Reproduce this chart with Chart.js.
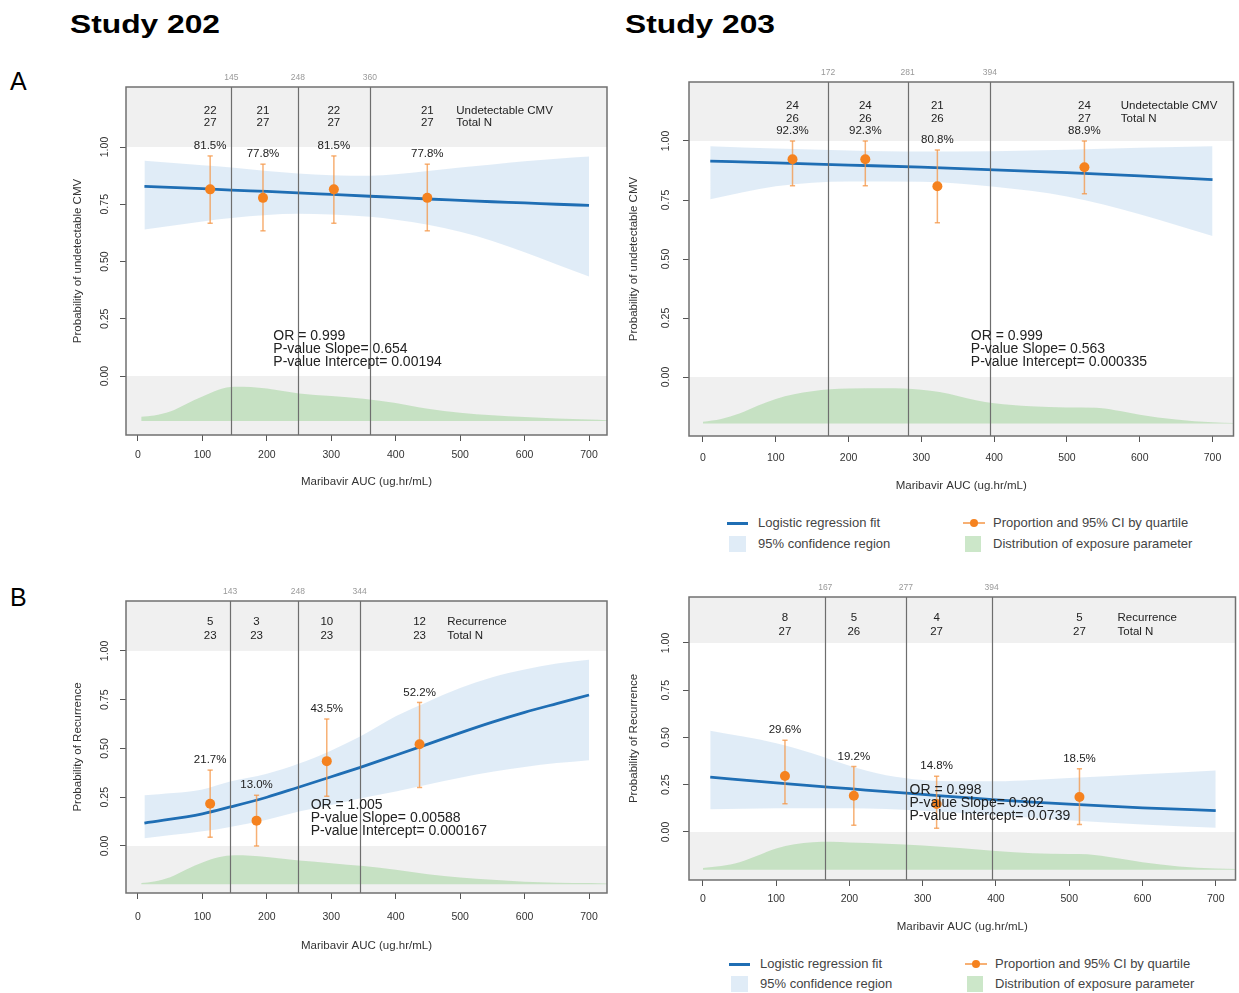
<!DOCTYPE html>
<html>
<head>
<meta charset="utf-8">
<title>Maribavir AUC exposure–response</title>
<script src="https://cdn.jsdelivr.net/npm/chart.js@4.4.1/dist/chart.umd.min.js"></script>
<style>
  html, body { margin: 0; padding: 0; background: #fff; }
  body { position: relative; width: 1239px; height: 993px; overflow: hidden;
         font-family: "Liberation Sans", Arial, sans-serif; color: #222; }
  canvas { position: absolute; }
  .study { position: absolute; top: 12px; font-size: 25px; line-height: 25px; font-weight: bold;
           color: #000; transform: scaleX(1.27); transform-origin: 0 0; white-space: nowrap; }
  .tag { position: absolute; font-size: 25px; line-height: 25px; color: #000; }
  .lg { position: absolute; font-size: 13px; line-height: 14px; color: #444; white-space: nowrap; }
  .sw { position: absolute; }
</style>
</head>
<body>
<div class="study" style="left:70px">Study 202</div>
<div class="study" style="left:625px">Study 203</div>
<div class="tag" style="left:10px;top:69px">A</div>
<div class="tag" style="left:10px;top:585px">B</div>

<canvas id="cmv202"></canvas>
<canvas id="cmv203"></canvas>
<canvas id="rec202"></canvas>
<canvas id="rec203"></canvas>

<script>
// ---------- shared axis ticks ----------
const xTickValues = [0, 100, 200, 300, 400, 500, 600, 700];
const yTickValues = [0, 0.25, 0.5, 0.75, 1];
const xAxisTitle = 'Maribavir AUC (ug.hr/mL)';

// ---------- Study 202: undetectable CMV ----------
const cmv202Cuts = [145, 248, 360];
const cmv202QuartileX = [112, 194, 304, 449];
const cmv202Prop = [0.815, 0.778, 0.815, 0.778];
const cmv202Low = [0.667, 0.634, 0.667, 0.634];
const cmv202High = [0.961, 0.925, 0.961, 0.925];
const cmv202Events = [22, 21, 22, 21];
const cmv202Total = [27, 27, 27, 27];
const cmv202FitX = [10, 100, 145, 200, 248, 300, 360, 400, 450, 500, 550, 600, 650, 700];
const cmv202Fit = [0.828, 0.818, 0.812, 0.806, 0.8, 0.793, 0.785, 0.78, 0.773, 0.767, 0.761, 0.756, 0.75, 0.745];
const cmv202BandHigh = [0.94, 0.92, 0.911, 0.895, 0.884, 0.877, 0.875, 0.881, 0.895, 0.91, 0.924, 0.938, 0.949, 0.958];
const cmv202BandLow = [0.64, 0.675, 0.69, 0.703, 0.708, 0.705, 0.695, 0.682, 0.66, 0.63, 0.59, 0.54, 0.487, 0.434];
const cmv202DensX = [5, 25, 50, 75, 100, 125, 150, 175, 200, 250, 300, 350, 400, 450, 500, 550, 600, 650, 700, 730];
const cmv202Dens = [-0.178, -0.172, -0.155, -0.122, -0.09, -0.06, -0.047, -0.048, -0.055, -0.076, -0.087, -0.099, -0.118, -0.143, -0.16, -0.171, -0.179, -0.186, -0.19, -0.193];
const cmv202Stats = ['OR = 0.999', 'P-value Slope= 0.654', 'P-value Intercept= 0.00194'];

// ---------- Study 203: undetectable CMV ----------
const cmv203Cuts = [172, 281, 394];
const cmv203QuartileX = [123, 223, 322, 524];
const cmv203Prop = [0.923, 0.923, 0.808, 0.889];
const cmv203Low = [0.81, 0.81, 0.654, 0.777];
const cmv203High = [1.0, 1.0, 0.962, 1.0];
const cmv203Events = [24, 24, 21, 24];
const cmv203Total = [26, 26, 26, 27];
const cmv203FitX = [10, 100, 200, 300, 400, 500, 600, 700];
const cmv203Fit = [0.915, 0.907, 0.898, 0.889, 0.878, 0.866, 0.852, 0.836];
const cmv203BandHigh = [0.978, 0.968, 0.96, 0.955, 0.957, 0.963, 0.971, 0.978];
const cmv203BandLow = [0.753, 0.808, 0.828, 0.827, 0.806, 0.765, 0.69, 0.597];
const cmv203DensX = [0, 25, 50, 75, 100, 125, 150, 175, 200, 250, 300, 325, 350, 375, 400, 450, 500, 540, 575, 600, 650, 700, 730];
const cmv203Dens = [-0.19, -0.178, -0.155, -0.122, -0.093, -0.073, -0.06, -0.052, -0.049, -0.048, -0.054, -0.064, -0.08, -0.098, -0.111, -0.124, -0.129, -0.13, -0.145, -0.16, -0.18, -0.192, -0.195];
const cmv203Stats = ['OR = 0.999', 'P-value Slope= 0.563', 'P-value Intercept= 0.000335'];

// ---------- Study 202: recurrence ----------
const rec202Cuts = [143, 248, 344];
const rec202QuartileX = [112, 184, 293, 437];
const rec202Prop = [0.217, 0.13, 0.435, 0.522];
const rec202Low = [0.045, 0.0, 0.255, 0.3];
const rec202High = [0.389, 0.26, 0.651, 0.736];
const rec202Events = [5, 3, 10, 12];
const rec202Total = [23, 23, 23, 23];
const rec202FitX = [10, 100, 143, 200, 248, 300, 344, 400, 450, 500, 550, 600, 650, 700];
const rec202Fit = [0.117, 0.165, 0.2, 0.25, 0.3, 0.355, 0.402, 0.465, 0.522, 0.58, 0.635, 0.685, 0.73, 0.774];
const rec202BandHigh = [0.26, 0.29, 0.33, 0.37, 0.42, 0.49, 0.56, 0.665, 0.74, 0.81, 0.865, 0.905, 0.935, 0.955];
const rec202BandLow = [0.04, 0.075, 0.098, 0.135, 0.175, 0.21, 0.243, 0.28, 0.315, 0.35, 0.38, 0.405, 0.425, 0.44];
const rec202DensX = [5, 25, 50, 75, 100, 125, 150, 175, 200, 250, 300, 350, 400, 450, 500, 550, 600, 650, 700, 730];
const rec202Dens = [-0.19, -0.182, -0.16, -0.12, -0.085, -0.058, -0.048, -0.05, -0.057, -0.075, -0.088, -0.103, -0.122, -0.145, -0.162, -0.173, -0.183, -0.188, -0.19, -0.192];
const rec202Stats = ['OR = 1.005', 'P-value Slope= 0.00588', 'P-value Intercept= 0.000167'];

// ---------- Study 203: recurrence ----------
const rec203Cuts = [167, 277, 394];
const rec203QuartileX = [112, 206, 319, 514];
const rec203Prop = [0.296, 0.192, 0.148, 0.185];
const rec203Low = [0.15, 0.036, 0.02, 0.04];
const rec203High = [0.485, 0.347, 0.295, 0.335];
const rec203Events = [8, 5, 4, 5];
const rec203Total = [27, 26, 27, 27];
const rec203FitX = [10, 100, 150, 200, 250, 300, 350, 400, 450, 500, 600, 700];
const rec203Fit = [0.29, 0.26, 0.244, 0.229, 0.213, 0.199, 0.184, 0.17, 0.158, 0.147, 0.128, 0.113];
const rec203BandHigh = [0.535, 0.47, 0.415, 0.35, 0.3, 0.275, 0.268, 0.268, 0.275, 0.285, 0.305, 0.325];
const rec203BandLow = [0.12, 0.125, 0.126, 0.125, 0.122, 0.112, 0.1, 0.087, 0.075, 0.062, 0.04, 0.022];
const rec203DensX = [0, 25, 50, 75, 100, 125, 150, 175, 200, 250, 300, 350, 400, 450, 500, 525, 550, 600, 650, 700, 730];
const rec203Dens = [-0.19, -0.18, -0.16, -0.125, -0.088, -0.065, -0.054, -0.052, -0.055, -0.062, -0.072, -0.085, -0.1, -0.112, -0.116, -0.118, -0.13, -0.16, -0.182, -0.193, -0.196];
const rec203Stats = ['OR = 0.998', 'P-value Slope= 0.302', 'P-value Intercept= 0.0739'];

// ---------- legend ----------
const legendLabels = ['Logistic regression fit', '95% confidence region',
                      'Proportion and 95% CI by quartile', 'Distribution of exposure parameter'];

// ---------- styling ----------
const FONT = '"Liberation Sans", Arial, sans-serif';
const BLUE = '#1f6eb4';
const CI_FILL = 'rgba(205,224,242,0.62)';
const GREEN = 'rgba(170,215,165,0.6)';
const ORANGE = '#f5821f';
const ORANGE_BAR = 'rgba(244,150,70,0.75)';
const BAND_GREY = '#f0f0f0';
const CUT_LINE = '#6e6e6e';
const BOX = '#707070';
const TICK_SIZE = 10.5, TITLE_SIZE = 11.5, TICK_LEN = 6;

const panels = [
  { id: 'cmv202', yTitle: 'Probability of undetectable CMV', rowLabels: ['Undetectable CMV', 'Total N'],
    cuts: cmv202Cuts, qx: cmv202QuartileX, prop: cmv202Prop, low: cmv202Low, high: cmv202High,
    events: cmv202Events, total: cmv202Total, fitX: cmv202FitX, fit: cmv202Fit,
    bandHigh: cmv202BandHigh, bandLow: cmv202BandLow, densX: cmv202DensX, dens: cmv202Dens, stats: cmv202Stats,
    layout: { canvas: { x: 40, y: 60, w: 580, h: 440 }, area: { left: 126, top: 87, right: 607, bottom: 435 },
              x: [-18.6, 727.9], y: [-0.2576, 1.262], base: -0.197,
              yTickX: 105, yTitleX: 78, xTickY: 455, xTitleY: 482,
              rows: [24, 36], rowLabelX: 494, statX: 210, statY: 0.175 } },
  { id: 'cmv203', yTitle: 'Probability of undetectable CMV', rowLabels: ['Undetectable CMV', 'Total N'],
    cuts: cmv203Cuts, qx: cmv203QuartileX, prop: cmv203Prop, low: cmv203Low, high: cmv203High,
    events: cmv203Events, total: cmv203Total, fitX: cmv203FitX, fit: cmv203Fit,
    bandHigh: cmv203BandHigh, bandLow: cmv203BandLow, densX: cmv203DensX, dens: cmv203Dens, stats: cmv203Stats,
    layout: { canvas: { x: 600, y: 55, w: 639, h: 445 }, area: { left: 689, top: 82, right: 1234, bottom: 436 },
              x: [-19.2, 728.8], y: [-0.25, 1.25], base: -0.197,
              yTickX: 666, yTitleX: 634, xTickY: 458, xTitleY: 486,
              rows: [24, 37], rowLabelX: 574, statX: 368, statY: 0.174 } },
  { id: 'rec202', yTitle: 'Probability of Recurrence', rowLabels: ['Recurrence', 'Total N'],
    cuts: rec202Cuts, qx: rec202QuartileX, prop: rec202Prop, low: rec202Low, high: rec202High,
    events: rec202Events, total: rec202Total, fitX: rec202FitX, fit: rec202Fit,
    bandHigh: rec202BandHigh, bandLow: rec202BandLow, densX: rec202DensX, dens: rec202Dens, stats: rec202Stats,
    layout: { canvas: { x: 40, y: 575, w: 580, h: 390 }, area: { left: 126, top: 601, right: 607, bottom: 893 },
              x: [-18.6, 727.9], y: [-0.241, 1.256], base: -0.196,
              yTickX: 105, yTitleX: 78, xTickY: 917, xTitleY: 946,
              rows: [21, 35], rowLabelX: 480, statX: 268, statY: 0.21 } },
  { id: 'rec203', yTitle: 'Probability of Recurrence', rowLabels: ['Recurrence', 'Total N'],
    cuts: rec203Cuts, qx: rec203QuartileX, prop: rec203Prop, low: rec203Low, high: rec203High,
    events: rec203Events, total: rec203Total, fitX: rec203FitX, fit: rec203Fit,
    bandHigh: rec203BandHigh, bandLow: rec203BandLow, densX: rec203DensX, dens: rec203Dens, stats: rec203Stats,
    layout: { canvas: { x: 600, y: 570, w: 641, h: 380 }, area: { left: 689, top: 597, right: 1240, bottom: 880 },
              x: [-19, 727], y: [-0.254, 1.243], base: -0.2,
              yTickX: 666, yTitleX: 634, xTickY: 899, xTitleY: 927,
              rows: [21, 35], rowLabelX: 566, statX: 282, statY: 0.222 } }
];

const xy = (xs, ys) => xs.map((x, i) => ({ x, y: ys[i] }));

// Grey margins, quartile cut lines, count/percent labels and the plot frame.
function decorPlugin(p) {
  return {
    id: 'decor_' + p.id,
    beforeDatasetsDraw(chart) {
      const { ctx, chartArea: a, scales: { x, y } } = chart;
      ctx.save();
      ctx.fillStyle = BAND_GREY;
      const y1 = y.getPixelForValue(1), y0 = y.getPixelForValue(0);
      ctx.fillRect(a.left, a.top, a.right - a.left, y1 - a.top);
      ctx.fillRect(a.left, y0, a.right - a.left, a.bottom - y0);
      ctx.restore();
    },
    afterDatasetsDraw(chart) {
      const { ctx, chartArea: a, scales: { x, y } } = chart;
      const L = p.layout;
      ctx.save();
      // quartile boundaries
      ctx.strokeStyle = CUT_LINE; ctx.lineWidth = 1.2;
      p.cuts.forEach(c => {
        const px = Math.round(x.getPixelForValue(c)) + 0.5;
        ctx.beginPath(); ctx.moveTo(px, a.top); ctx.lineTo(px, a.bottom); ctx.stroke();
      });
      ctx.textBaseline = 'middle';
      ctx.textAlign = 'center';
      ctx.fillStyle = '#999';
      ctx.font = `8.5px ${FONT}`;
      p.cuts.forEach(c => ctx.fillText(String(c), x.getPixelForValue(c), a.top - 9));
      // counts per quartile and percentages over the CI bars
      ctx.fillStyle = '#222';
      ctx.font = `11.5px ${FONT}`;
      p.qx.forEach((q, i) => {
        const px = x.getPixelForValue(q);
        ctx.fillText(String(p.events[i]), px, a.top + L.rows[0]);
        ctx.fillText(String(p.total[i]), px, a.top + L.rows[1]);
        ctx.fillText((p.prop[i] * 100).toFixed(1) + '%', px, y.getPixelForValue(p.high[i]) - 10);
      });
      ctx.textAlign = 'left';
      const lx = x.getPixelForValue(L.rowLabelX);
      ctx.fillText(p.rowLabels[0], lx, a.top + L.rows[0]);
      ctx.fillText(p.rowLabels[1], lx, a.top + L.rows[1]);
      // regression statistics
      ctx.font = `14px ${FONT}`;
      const sx = x.getPixelForValue(L.statX), sy = y.getPixelForValue(L.statY);
      p.stats.forEach((s, i) => ctx.fillText(s, sx, sy + i * 13));
      ctx.restore();
    },
    afterDraw(chart) {
      const { ctx, chartArea: a } = chart;
      ctx.save();
      ctx.strokeStyle = BOX; ctx.lineWidth = 1.5;
      ctx.strokeRect(a.left, a.top, a.right - a.left, a.bottom - a.top);
      ctx.restore();
    }
  };
}

function buildPanel(p) {
  const L = p.layout, C = L.canvas, A = L.area;
  const cv = document.getElementById(p.id);
  cv.width = C.w; cv.height = C.h;
  cv.style.left = C.x + 'px'; cv.style.top = C.y + 'px';
  const mctx = cv.getContext('2d');
  mctx.font = `${TICK_SIZE}px ${FONT}`;
  const widest = mctx.measureText('0.00').width;

  const yAxisW = A.left - C.x;
  const xAxisH = C.y + C.h - A.bottom;
  const yTickPad = (A.left - L.yTickX) - TICK_LEN - widest / 2;
  const yTitlePad = (L.yTitleX - C.x) - TITLE_SIZE * 1.2 / 2;
  const xTickPad = (L.xTickY - A.bottom) - TICK_LEN - TICK_SIZE * 1.2 / 2;
  const xTitlePad = (C.y + C.h - L.xTitleY) - TITLE_SIZE * 1.2 / 2;

  const errorBars = p.qx.map((q, i) => ({
    label: 'ci' + i, data: [{ x: q, y: p.low[i] }, { x: q, y: p.high[i] }],
    borderColor: ORANGE_BAR, borderWidth: 1.5, pointStyle: 'line', pointRadius: 2.6,
    pointBorderColor: ORANGE_BAR, pointBorderWidth: 1.5, fill: false, order: 1
  }));

  new Chart(cv, {
    type: 'line',
    data: {
      datasets: [
        { label: 'bandHigh', data: xy(p.fitX, p.bandHigh), borderColor: 'rgba(0,0,0,0)', borderWidth: 0,
          pointRadius: 0, fill: false, cubicInterpolationMode: 'monotone', order: 6 },
        { label: 'bandLow', data: xy(p.fitX, p.bandLow), borderColor: 'rgba(0,0,0,0)', borderWidth: 0,
          pointRadius: 0, fill: '-1', backgroundColor: CI_FILL, cubicInterpolationMode: 'monotone', order: 6 },
        { label: 'density', data: xy(p.densX, p.dens), borderColor: 'rgba(0,0,0,0)', borderWidth: 0,
          pointRadius: 0, fill: { value: L.base }, backgroundColor: GREEN, cubicInterpolationMode: 'monotone', order: 5 },
        { label: 'fit', data: xy(p.fitX, p.fit), borderColor: BLUE, borderWidth: 2.8, pointRadius: 0,
          fill: false, cubicInterpolationMode: 'monotone', order: 2 },
        ...errorBars,
        { label: 'proportion', data: xy(p.qx, p.prop), showLine: false, pointRadius: 5,
          pointBackgroundColor: ORANGE, pointBorderWidth: 0, borderColor: ORANGE, order: 0 }
      ]
    },
    options: {
      responsive: false, animation: false, events: [], devicePixelRatio: 1,
      layout: { padding: { left: 0, top: A.top - C.y, right: C.x + C.w - A.right, bottom: 0 } },
      plugins: { legend: { display: false }, tooltip: { enabled: false } },
      scales: {
        x: {
          type: 'linear', min: L.x[0], max: L.x[1],
          afterBuildTicks: s => { s.ticks = xTickValues.map(v => ({ value: v })); },
          afterFit: s => { s.height = xAxisH; },
          grid: { drawOnChartArea: false, drawTicks: true, tickLength: TICK_LEN, color: '#555' },
          border: { display: false },
          ticks: { autoSkip: false, maxRotation: 0, padding: xTickPad, color: '#333',
                   font: { family: FONT, size: TICK_SIZE }, callback: v => String(v) },
          title: { display: true, text: xAxisTitle, color: '#333', font: { family: FONT, size: TITLE_SIZE },
                   padding: { top: 0, bottom: xTitlePad } }
        },
        y: {
          type: 'linear', min: L.y[0], max: L.y[1],
          afterBuildTicks: s => { s.ticks = yTickValues.map(v => ({ value: v })); },
          afterFit: s => { s.width = yAxisW; },
          grid: { drawOnChartArea: false, drawTicks: true, tickLength: TICK_LEN, color: '#555' },
          border: { display: false },
          ticks: { autoSkip: false, minRotation: 90, maxRotation: 90, crossAlign: 'center',
                   padding: yTickPad, color: '#333', font: { family: FONT, size: TICK_SIZE },
                   callback: v => Number(v).toFixed(2) },
          title: { display: true, text: p.yTitle, color: '#333', font: { family: FONT, size: TITLE_SIZE },
                   padding: { top: yTitlePad, bottom: 0 } }
        }
      }
    },
    plugins: [decorPlugin(p)]
  });
}

panels.forEach(buildPanel);

// Shared legend, repeated under each row of panels.
function buildLegend(x0, y0, rowGap) {
  const colX = [x0, x0 + 236];
  const rowY = [y0, y0 + rowGap];
  const add = (cls, style, text) => {
    const d = document.createElement('div');
    d.className = cls; d.setAttribute('style', style);
    if (text) d.textContent = text;
    document.body.appendChild(d);
  };
  // fit line
  add('sw', `left:${colX[0]}px;top:${rowY[0] - 1}px;width:21px;height:2.5px;background:${BLUE}`);
  add('lg', `left:${colX[0] + 31}px;top:${rowY[0] - 7}px`, legendLabels[0]);
  // confidence band
  add('sw', `left:${colX[0] + 2}px;top:${rowY[1] - 8}px;width:17px;height:16px;background:${CI_FILL}`);
  add('lg', `left:${colX[0] + 31}px;top:${rowY[1] - 7}px`, legendLabels[1]);
  // proportion with CI
  add('sw', `left:${colX[1]}px;top:${rowY[0] - 1}px;width:22px;height:1.5px;background:${ORANGE_BAR}`);
  add('sw', `left:${colX[1] + 7}px;top:${rowY[0] - 4}px;width:8px;height:8px;border-radius:50%;background:${ORANGE}`);
  add('lg', `left:${colX[1] + 30}px;top:${rowY[0] - 7}px`, legendLabels[2]);
  // exposure distribution
  add('sw', `left:${colX[1] + 2}px;top:${rowY[1] - 8}px;width:16px;height:16px;background:${GREEN}`);
  add('lg', `left:${colX[1] + 30}px;top:${rowY[1] - 7}px`, legendLabels[3]);
}
buildLegend(727, 523, 21);
buildLegend(729, 964, 20);
</script>
</body>
</html>
